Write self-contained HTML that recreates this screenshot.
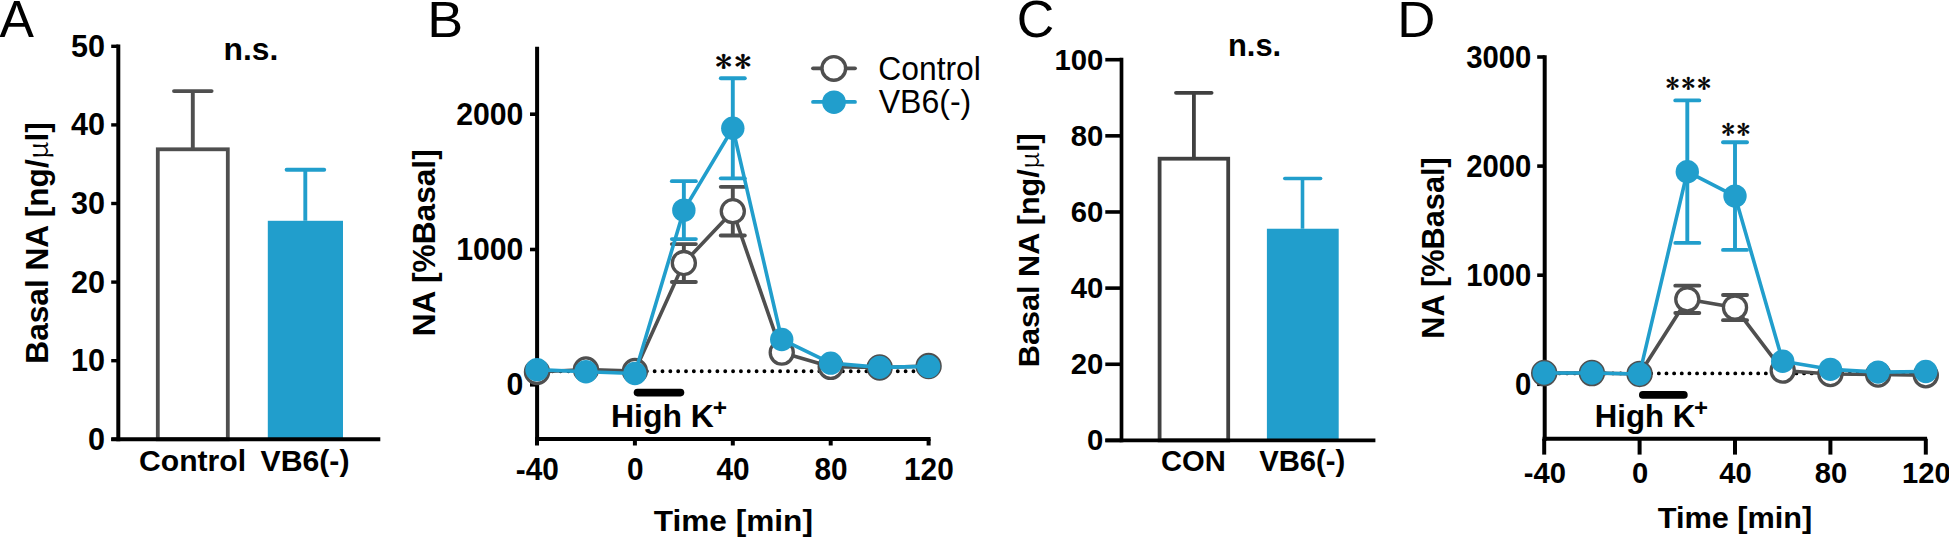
<!DOCTYPE html>
<html><head><meta charset="utf-8"><title>Figure</title>
<style>html,body{margin:0;padding:0;background:#fff;}svg{display:block;}</style></head>
<body><svg width="1949" height="539" viewBox="0 0 1949 539">
<rect width="1949" height="539" fill="#fff"/>
<text id="lA" transform="translate(-0.40,37.35) scale(1.0059,1)" font-size="51.33" font-weight="normal" text-anchor="start" font-family="'Liberation Sans', sans-serif">A</text>
<text id="lB" transform="translate(427.20,37.32) scale(1.0640,1)" font-size="50.65" font-weight="normal" text-anchor="start" font-family="'Liberation Sans', sans-serif">B</text>
<text id="lC" transform="translate(1016.82,37.16) scale(1.0096,1)" font-size="51.46" font-weight="normal" text-anchor="start" font-family="'Liberation Sans', sans-serif">C</text>
<text id="lD" transform="translate(1397.30,37.32) scale(1.0424,1)" font-size="50.65" font-weight="normal" text-anchor="start" font-family="'Liberation Sans', sans-serif">D</text>
<rect x="157.8" y="149.3" width="70" height="290.00" fill="#fff" stroke="#4f4f4f" stroke-width="3.8"/>
<line x1="192.80" y1="149.30" x2="192.80" y2="91.10" stroke="#4f4f4f" stroke-width="3.9" stroke-linecap="butt"/>
<line x1="174.00" y1="91.10" x2="211.60" y2="91.10" stroke="#4f4f4f" stroke-width="3.9" stroke-linecap="round"/>
<rect x="267.8" y="220.79" width="75.2" height="218.51" fill="#219ecc"/>
<line x1="305.30" y1="220.79" x2="305.30" y2="169.70" stroke="#219ecc" stroke-width="3.9" stroke-linecap="butt"/>
<line x1="286.60" y1="169.70" x2="324.20" y2="169.70" stroke="#219ecc" stroke-width="3.9" stroke-linecap="round"/>
<line x1="118.30" y1="44.60" x2="118.30" y2="441.30" stroke="#000" stroke-width="4" stroke-linecap="butt"/>
<line x1="111.30" y1="439.30" x2="380.30" y2="439.30" stroke="#000" stroke-width="4" stroke-linecap="butt"/>
<line x1="111.20" y1="439.30" x2="118.30" y2="439.30" stroke="#000" stroke-width="3.4" stroke-linecap="butt"/>
<text id="yA0" transform="translate(105.00,449.89) scale(0.9970,1)" font-size="30.70" font-weight="bold" text-anchor="end" font-family="'Liberation Sans', sans-serif">0</text>
<line x1="111.20" y1="360.70" x2="118.30" y2="360.70" stroke="#000" stroke-width="3.4" stroke-linecap="butt"/>
<text id="yA10" transform="translate(105.00,371.29) scale(0.9970,1)" font-size="30.70" font-weight="bold" text-anchor="end" font-family="'Liberation Sans', sans-serif">10</text>
<line x1="111.20" y1="282.10" x2="118.30" y2="282.10" stroke="#000" stroke-width="3.4" stroke-linecap="butt"/>
<text id="yA20" transform="translate(105.00,292.69) scale(0.9970,1)" font-size="30.70" font-weight="bold" text-anchor="end" font-family="'Liberation Sans', sans-serif">20</text>
<line x1="111.20" y1="203.50" x2="118.30" y2="203.50" stroke="#000" stroke-width="3.4" stroke-linecap="butt"/>
<text id="yA30" transform="translate(105.00,214.09) scale(0.9970,1)" font-size="30.70" font-weight="bold" text-anchor="end" font-family="'Liberation Sans', sans-serif">30</text>
<line x1="111.20" y1="124.90" x2="118.30" y2="124.90" stroke="#000" stroke-width="3.4" stroke-linecap="butt"/>
<text id="yA40" transform="translate(105.00,135.49) scale(0.9970,1)" font-size="30.70" font-weight="bold" text-anchor="end" font-family="'Liberation Sans', sans-serif">40</text>
<line x1="111.20" y1="46.30" x2="118.30" y2="46.30" stroke="#000" stroke-width="3.4" stroke-linecap="butt"/>
<text id="yA50" transform="translate(105.00,56.89) scale(0.9970,1)" font-size="30.70" font-weight="bold" text-anchor="end" font-family="'Liberation Sans', sans-serif">50</text>
<text id="xA1" transform="translate(192.57,471.46) scale(1.0010,1)" font-size="30.07" font-weight="bold" text-anchor="middle" font-family="'Liberation Sans', sans-serif">Control</text>
<text id="xA2" transform="translate(304.99,470.60) scale(0.9935,1)" font-size="30.40" font-weight="bold" text-anchor="middle" font-family="'Liberation Sans', sans-serif">VB6(-)</text>
<text id="nsA" transform="translate(250.88,60.04) scale(0.9914,1)" font-size="32.09" font-weight="bold" text-anchor="middle" font-family="'Liberation Sans', sans-serif">n.s.</text>
<text id="ylA" transform="translate(47.60,242.91) rotate(-90) scale(0.9910,1)" font-size="31.92" font-weight="bold" text-anchor="middle" font-family="'Liberation Sans', sans-serif">Basal NA [ng/<tspan font-family="'Noto Serif CJK SC', 'Liberation Serif', serif" font-weight="normal" font-size="90%">&#956;</tspan>l]</text>
<line x1="537.00" y1="371.27" x2="928.60" y2="371.27" stroke="#000" stroke-width="3.9" stroke-linecap="round" stroke-dasharray="0 7.8430"/>
<line x1="537.10" y1="46.80" x2="537.10" y2="440.90" stroke="#000" stroke-width="4" stroke-linecap="butt"/>
<line x1="535.00" y1="438.90" x2="930.60" y2="438.90" stroke="#000" stroke-width="4" stroke-linecap="butt"/>
<line x1="537.00" y1="438.90" x2="537.00" y2="445.50" stroke="#000" stroke-width="4" stroke-linecap="butt"/>
<text id="xB-40" transform="translate(537.30,479.90) scale(0.9550,1)" font-size="31.20" font-weight="bold" text-anchor="middle" font-family="'Liberation Sans', sans-serif">-40</text>
<line x1="634.90" y1="438.90" x2="634.90" y2="445.50" stroke="#000" stroke-width="4" stroke-linecap="butt"/>
<text id="xB0" transform="translate(635.20,479.90) scale(0.9550,1)" font-size="31.20" font-weight="bold" text-anchor="middle" font-family="'Liberation Sans', sans-serif">0</text>
<line x1="732.80" y1="438.90" x2="732.80" y2="445.50" stroke="#000" stroke-width="4" stroke-linecap="butt"/>
<text id="xB40" transform="translate(733.10,479.90) scale(0.9550,1)" font-size="31.20" font-weight="bold" text-anchor="middle" font-family="'Liberation Sans', sans-serif">40</text>
<line x1="830.70" y1="438.90" x2="830.70" y2="445.50" stroke="#000" stroke-width="4" stroke-linecap="butt"/>
<text id="xB80" transform="translate(831.00,479.90) scale(0.9550,1)" font-size="31.20" font-weight="bold" text-anchor="middle" font-family="'Liberation Sans', sans-serif">80</text>
<line x1="928.60" y1="438.90" x2="928.60" y2="445.50" stroke="#000" stroke-width="4" stroke-linecap="butt"/>
<text id="xB120" transform="translate(928.90,479.90) scale(0.9550,1)" font-size="31.20" font-weight="bold" text-anchor="middle" font-family="'Liberation Sans', sans-serif">120</text>
<line x1="530.00" y1="384.80" x2="537.10" y2="384.80" stroke="#000" stroke-width="3.6" stroke-linecap="butt"/>
<text id="yB0" transform="translate(523.40,395.39) scale(0.9850,1)" font-size="30.70" font-weight="bold" text-anchor="end" font-family="'Liberation Sans', sans-serif">0</text>
<line x1="530.00" y1="249.50" x2="537.10" y2="249.50" stroke="#000" stroke-width="3.6" stroke-linecap="butt"/>
<text id="yB1000" transform="translate(523.40,260.09) scale(0.9850,1)" font-size="30.70" font-weight="bold" text-anchor="end" font-family="'Liberation Sans', sans-serif">1000</text>
<line x1="530.00" y1="114.20" x2="537.10" y2="114.20" stroke="#000" stroke-width="3.6" stroke-linecap="butt"/>
<text id="yB2000" transform="translate(523.40,124.79) scale(0.9850,1)" font-size="30.70" font-weight="bold" text-anchor="end" font-family="'Liberation Sans', sans-serif">2000</text>
<polyline points="537.00,371.95 585.95,369.51 634.90,371.00 683.85,263.03 732.80,211.21 781.75,352.60 830.70,366.81 879.65,367.48 928.60,365.99" fill="none" stroke="#4f4f4f" stroke-width="3.6" stroke-linejoin="round"/>
<line x1="683.85" y1="281.97" x2="683.85" y2="244.09" stroke="#4f4f4f" stroke-width="3.9" stroke-linecap="butt"/>
<line x1="671.85" y1="244.09" x2="695.85" y2="244.09" stroke="#4f4f4f" stroke-width="3.9" stroke-linecap="round"/>
<line x1="671.85" y1="281.97" x2="695.85" y2="281.97" stroke="#4f4f4f" stroke-width="3.9" stroke-linecap="round"/>
<line x1="732.80" y1="235.56" x2="732.80" y2="186.86" stroke="#4f4f4f" stroke-width="3.9" stroke-linecap="butt"/>
<line x1="720.80" y1="186.86" x2="744.80" y2="186.86" stroke="#4f4f4f" stroke-width="3.9" stroke-linecap="round"/>
<line x1="720.80" y1="235.56" x2="744.80" y2="235.56" stroke="#4f4f4f" stroke-width="3.9" stroke-linecap="round"/>
<circle cx="537.00" cy="371.95" r="11.55" fill="#fff" stroke="#4f4f4f" stroke-width="3.3"/>
<circle cx="585.95" cy="369.51" r="11.55" fill="#fff" stroke="#4f4f4f" stroke-width="3.3"/>
<circle cx="634.90" cy="371.00" r="11.55" fill="#fff" stroke="#4f4f4f" stroke-width="3.3"/>
<circle cx="683.85" cy="263.03" r="11.55" fill="#fff" stroke="#4f4f4f" stroke-width="3.3"/>
<circle cx="732.80" cy="211.21" r="11.55" fill="#fff" stroke="#4f4f4f" stroke-width="3.3"/>
<circle cx="781.75" cy="352.60" r="11.55" fill="#fff" stroke="#4f4f4f" stroke-width="3.3"/>
<circle cx="830.70" cy="366.81" r="11.55" fill="#fff" stroke="#4f4f4f" stroke-width="3.3"/>
<circle cx="879.65" cy="367.48" r="11.55" fill="#fff" stroke="#4f4f4f" stroke-width="3.3"/>
<circle cx="928.60" cy="365.99" r="11.55" fill="#fff" stroke="#4f4f4f" stroke-width="3.3"/>
<polyline points="537.00,369.65 585.95,371.68 634.90,373.57 683.85,210.13 732.80,128.27 781.75,339.47 830.70,363.15 879.65,367.35 928.60,366.40" fill="none" stroke="#219ecc" stroke-width="3.6" stroke-linejoin="round"/>
<line x1="683.85" y1="239.08" x2="683.85" y2="181.17" stroke="#219ecc" stroke-width="3.9" stroke-linecap="butt"/>
<line x1="671.85" y1="181.17" x2="695.85" y2="181.17" stroke="#219ecc" stroke-width="3.9" stroke-linecap="round"/>
<line x1="671.85" y1="239.08" x2="695.85" y2="239.08" stroke="#219ecc" stroke-width="3.9" stroke-linecap="round"/>
<line x1="732.80" y1="178.33" x2="732.80" y2="78.21" stroke="#219ecc" stroke-width="3.9" stroke-linecap="butt"/>
<line x1="720.80" y1="78.21" x2="744.80" y2="78.21" stroke="#219ecc" stroke-width="3.9" stroke-linecap="round"/>
<line x1="720.80" y1="178.33" x2="744.80" y2="178.33" stroke="#219ecc" stroke-width="3.9" stroke-linecap="round"/>
<circle cx="537.00" cy="369.65" r="11.7" fill="#219ecc" stroke="none" stroke-width="0"/>
<circle cx="585.95" cy="371.68" r="11.7" fill="#219ecc" stroke="none" stroke-width="0"/>
<circle cx="634.90" cy="373.57" r="11.7" fill="#219ecc" stroke="none" stroke-width="0"/>
<circle cx="683.85" cy="210.13" r="11.7" fill="#219ecc" stroke="none" stroke-width="0"/>
<circle cx="732.80" cy="128.27" r="11.7" fill="#219ecc" stroke="none" stroke-width="0"/>
<circle cx="781.75" cy="339.47" r="11.7" fill="#219ecc" stroke="none" stroke-width="0"/>
<circle cx="830.70" cy="363.15" r="11.7" fill="#219ecc" stroke="none" stroke-width="0"/>
<circle cx="879.65" cy="367.35" r="11.7" fill="#219ecc" stroke="none" stroke-width="0"/>
<circle cx="928.60" cy="366.40" r="11.7" fill="#219ecc" stroke="none" stroke-width="0"/>
<line x1="637.50" y1="392.60" x2="680.50" y2="392.60" stroke="#000" stroke-width="7.6" stroke-linecap="round"/>
<text id="hkB" transform="translate(610.95,426.90) scale(0.9986,1)" font-size="32.00" font-weight="bold" text-anchor="start" font-family="'Liberation Sans', sans-serif">High K</text>
<text id="pkB" transform="translate(712.70,415.68) scale(1.0454,1)" font-size="23.49" font-weight="bold" text-anchor="start" font-family="'Liberation Sans', sans-serif">+</text>
<text id="tiB" transform="translate(733.36,531.13) scale(1.0449,1)" font-size="30.25" font-weight="bold" text-anchor="middle" font-family="'Liberation Sans', sans-serif">Time [min]</text>
<text id="ylB" transform="translate(435.01,242.80) rotate(-90) scale(1.0097,1)" font-size="31.36" font-weight="bold" text-anchor="middle" font-family="'Liberation Sans', sans-serif">NA [%Basal]</text>
<text id="stB" transform="translate(734.48,72.38) scale(1.1794,1)" font-size="28.48" font-weight="normal" text-anchor="middle" font-family="'IPAGothic', 'Liberation Serif', serif" letter-spacing="2" stroke="#000" stroke-width="0.45">**</text>
<line x1="813.00" y1="68.30" x2="855.00" y2="68.30" stroke="#4f4f4f" stroke-width="3.8" stroke-linecap="round"/>
<circle cx="833.80" cy="68.40" r="11.8" fill="#fff" stroke="#4f4f4f" stroke-width="3.4"/>
<line x1="813.00" y1="101.90" x2="855.00" y2="101.90" stroke="#219ecc" stroke-width="3.8" stroke-linecap="round"/>
<circle cx="834.00" cy="102.20" r="11.8" fill="#219ecc" stroke="none" stroke-width="0"/>
<text id="lg1" transform="translate(878.28,79.80) scale(0.9536,1)" font-size="33.39" font-weight="normal" text-anchor="start" font-family="'Liberation Sans', sans-serif">Control</text>
<text id="lg2" transform="translate(878.69,113.01) scale(0.9598,1)" font-size="33.40" font-weight="normal" text-anchor="start" font-family="'Liberation Sans', sans-serif">VB6(-)</text>
<rect x="1159.6" y="158.7" width="68.6" height="281.70" fill="#fff" stroke="#404040" stroke-width="3.8"/>
<line x1="1193.90" y1="158.70" x2="1193.90" y2="92.82" stroke="#404040" stroke-width="3.8" stroke-linecap="butt"/>
<line x1="1176.00" y1="92.82" x2="1211.60" y2="92.82" stroke="#404040" stroke-width="3.8" stroke-linecap="round"/>
<rect x="1266.9" y="228.73" width="71.8" height="211.67" fill="#219ecc"/>
<line x1="1302.50" y1="228.73" x2="1302.50" y2="178.48" stroke="#219ecc" stroke-width="3.6" stroke-linecap="butt"/>
<line x1="1284.80" y1="178.48" x2="1320.60" y2="178.48" stroke="#219ecc" stroke-width="3.6" stroke-linecap="round"/>
<line x1="1121.50" y1="57.80" x2="1121.50" y2="442.20" stroke="#000" stroke-width="3.7" stroke-linecap="butt"/>
<line x1="1105.40" y1="440.40" x2="1375.40" y2="440.40" stroke="#000" stroke-width="3.7" stroke-linecap="butt"/>
<line x1="1105.30" y1="440.40" x2="1121.50" y2="440.40" stroke="#000" stroke-width="3.6" stroke-linecap="butt"/>
<text id="yC0" transform="translate(1103.40,450.47) scale(1.0030,1)" font-size="29.20" font-weight="bold" text-anchor="end" font-family="'Liberation Sans', sans-serif">0</text>
<line x1="1105.30" y1="364.26" x2="1121.50" y2="364.26" stroke="#000" stroke-width="3.6" stroke-linecap="butt"/>
<text id="yC20" transform="translate(1103.40,374.33) scale(1.0030,1)" font-size="29.20" font-weight="bold" text-anchor="end" font-family="'Liberation Sans', sans-serif">20</text>
<line x1="1105.30" y1="288.12" x2="1121.50" y2="288.12" stroke="#000" stroke-width="3.6" stroke-linecap="butt"/>
<text id="yC40" transform="translate(1103.40,298.19) scale(1.0030,1)" font-size="29.20" font-weight="bold" text-anchor="end" font-family="'Liberation Sans', sans-serif">40</text>
<line x1="1105.30" y1="211.98" x2="1121.50" y2="211.98" stroke="#000" stroke-width="3.6" stroke-linecap="butt"/>
<text id="yC60" transform="translate(1103.40,222.05) scale(1.0030,1)" font-size="29.20" font-weight="bold" text-anchor="end" font-family="'Liberation Sans', sans-serif">60</text>
<line x1="1105.30" y1="135.84" x2="1121.50" y2="135.84" stroke="#000" stroke-width="3.6" stroke-linecap="butt"/>
<text id="yC80" transform="translate(1103.40,145.91) scale(1.0030,1)" font-size="29.20" font-weight="bold" text-anchor="end" font-family="'Liberation Sans', sans-serif">80</text>
<line x1="1105.30" y1="59.70" x2="1121.50" y2="59.70" stroke="#000" stroke-width="3.6" stroke-linecap="butt"/>
<text id="yC100" transform="translate(1103.40,69.77) scale(1.0030,1)" font-size="29.20" font-weight="bold" text-anchor="end" font-family="'Liberation Sans', sans-serif">100</text>
<text id="xC1" transform="translate(1193.35,470.73) scale(0.9590,1)" font-size="30.40" font-weight="bold" text-anchor="middle" font-family="'Liberation Sans', sans-serif">CON</text>
<text id="xC2" transform="translate(1302.25,470.80) scale(0.9693,1)" font-size="30.20" font-weight="bold" text-anchor="middle" font-family="'Liberation Sans', sans-serif">VB6(-)</text>
<text id="nsC" transform="translate(1254.58,55.84) scale(0.9598,1)" font-size="32.20" font-weight="bold" text-anchor="middle" font-family="'Liberation Sans', sans-serif">n.s.</text>
<text id="ylC" transform="translate(1038.88,250.19) rotate(-90) scale(1.0251,1)" font-size="29.88" font-weight="bold" text-anchor="middle" font-family="'Liberation Sans', sans-serif">Basal NA [ng/<tspan font-family="'Noto Serif CJK SC', 'Liberation Serif', serif" font-weight="normal" font-size="90%">&#956;</tspan>l]</text>
<line x1="1544.20" y1="373.39" x2="1925.80" y2="373.39" stroke="#000" stroke-width="3.9" stroke-linecap="round" stroke-dasharray="0 7.6427"/>
<line x1="1544.70" y1="55.20" x2="1544.70" y2="440.70" stroke="#000" stroke-width="4" stroke-linecap="butt"/>
<line x1="1542.60" y1="438.70" x2="1927.10" y2="438.70" stroke="#000" stroke-width="4" stroke-linecap="butt"/>
<line x1="1544.20" y1="438.70" x2="1544.20" y2="454.60" stroke="#000" stroke-width="4" stroke-linecap="butt"/>
<text id="xD-40" transform="translate(1544.80,483.10) scale(0.9730,1)" font-size="30.00" font-weight="bold" text-anchor="middle" font-family="'Liberation Sans', sans-serif">-40</text>
<line x1="1639.60" y1="438.70" x2="1639.60" y2="454.60" stroke="#000" stroke-width="4" stroke-linecap="butt"/>
<text id="xD0" transform="translate(1640.20,483.10) scale(0.9730,1)" font-size="30.00" font-weight="bold" text-anchor="middle" font-family="'Liberation Sans', sans-serif">0</text>
<line x1="1735.00" y1="438.70" x2="1735.00" y2="454.60" stroke="#000" stroke-width="4" stroke-linecap="butt"/>
<text id="xD40" transform="translate(1735.60,483.10) scale(0.9730,1)" font-size="30.00" font-weight="bold" text-anchor="middle" font-family="'Liberation Sans', sans-serif">40</text>
<line x1="1830.40" y1="438.70" x2="1830.40" y2="454.60" stroke="#000" stroke-width="4" stroke-linecap="butt"/>
<text id="xD80" transform="translate(1831.00,483.10) scale(0.9730,1)" font-size="30.00" font-weight="bold" text-anchor="middle" font-family="'Liberation Sans', sans-serif">80</text>
<line x1="1925.80" y1="438.70" x2="1925.80" y2="454.60" stroke="#000" stroke-width="4" stroke-linecap="butt"/>
<text id="xD120" transform="translate(1926.40,483.10) scale(0.9730,1)" font-size="30.00" font-weight="bold" text-anchor="middle" font-family="'Liberation Sans', sans-serif">120</text>
<line x1="1537.20" y1="384.30" x2="1544.70" y2="384.30" stroke="#000" stroke-width="3.6" stroke-linecap="butt"/>
<text id="yD0" transform="translate(1531.30,394.86) scale(0.9570,1)" font-size="30.60" font-weight="bold" text-anchor="end" font-family="'Liberation Sans', sans-serif">0</text>
<line x1="1537.20" y1="275.20" x2="1544.70" y2="275.20" stroke="#000" stroke-width="3.6" stroke-linecap="butt"/>
<text id="yD1000" transform="translate(1531.30,285.76) scale(0.9570,1)" font-size="30.60" font-weight="bold" text-anchor="end" font-family="'Liberation Sans', sans-serif">1000</text>
<line x1="1537.20" y1="166.10" x2="1544.70" y2="166.10" stroke="#000" stroke-width="3.6" stroke-linecap="butt"/>
<text id="yD2000" transform="translate(1531.30,176.66) scale(0.9570,1)" font-size="30.60" font-weight="bold" text-anchor="end" font-family="'Liberation Sans', sans-serif">2000</text>
<line x1="1537.20" y1="57.00" x2="1544.70" y2="57.00" stroke="#000" stroke-width="3.6" stroke-linecap="butt"/>
<text id="yD3000" transform="translate(1531.30,67.56) scale(0.9570,1)" font-size="30.60" font-weight="bold" text-anchor="end" font-family="'Liberation Sans', sans-serif">3000</text>
<polyline points="1544.20,373.06 1591.90,373.06 1639.60,373.94 1687.30,299.31 1735.00,307.60 1782.70,370.55 1830.40,374.04 1878.10,374.48 1925.80,375.24" fill="none" stroke="#4f4f4f" stroke-width="3.6" stroke-linejoin="round"/>
<line x1="1687.30" y1="312.95" x2="1687.30" y2="285.67" stroke="#4f4f4f" stroke-width="3.9" stroke-linecap="butt"/>
<line x1="1675.30" y1="285.67" x2="1699.30" y2="285.67" stroke="#4f4f4f" stroke-width="3.9" stroke-linecap="round"/>
<line x1="1675.30" y1="312.95" x2="1699.30" y2="312.95" stroke="#4f4f4f" stroke-width="3.9" stroke-linecap="round"/>
<line x1="1735.00" y1="320.15" x2="1735.00" y2="295.06" stroke="#4f4f4f" stroke-width="3.9" stroke-linecap="butt"/>
<line x1="1723.00" y1="295.06" x2="1747.00" y2="295.06" stroke="#4f4f4f" stroke-width="3.9" stroke-linecap="round"/>
<line x1="1723.00" y1="320.15" x2="1747.00" y2="320.15" stroke="#4f4f4f" stroke-width="3.9" stroke-linecap="round"/>
<circle cx="1544.20" cy="373.06" r="11.55" fill="#fff" stroke="#4f4f4f" stroke-width="3.3"/>
<circle cx="1591.90" cy="373.06" r="11.55" fill="#fff" stroke="#4f4f4f" stroke-width="3.3"/>
<circle cx="1639.60" cy="373.94" r="11.55" fill="#fff" stroke="#4f4f4f" stroke-width="3.3"/>
<circle cx="1687.30" cy="299.31" r="11.55" fill="#fff" stroke="#4f4f4f" stroke-width="3.3"/>
<circle cx="1735.00" cy="307.60" r="11.55" fill="#fff" stroke="#4f4f4f" stroke-width="3.3"/>
<circle cx="1782.70" cy="370.55" r="11.55" fill="#fff" stroke="#4f4f4f" stroke-width="3.3"/>
<circle cx="1830.40" cy="374.04" r="11.55" fill="#fff" stroke="#4f4f4f" stroke-width="3.3"/>
<circle cx="1878.10" cy="374.48" r="11.55" fill="#fff" stroke="#4f4f4f" stroke-width="3.3"/>
<circle cx="1925.80" cy="375.24" r="11.55" fill="#fff" stroke="#4f4f4f" stroke-width="3.3"/>
<polyline points="1544.20,373.06 1591.90,373.06 1639.60,373.94 1687.30,171.66 1735.00,196.10 1782.70,361.28 1830.40,369.35 1878.10,372.08 1925.80,371.43" fill="none" stroke="#219ecc" stroke-width="3.6" stroke-linejoin="round"/>
<line x1="1687.30" y1="242.91" x2="1687.30" y2="100.42" stroke="#219ecc" stroke-width="3.9" stroke-linecap="butt"/>
<line x1="1675.30" y1="100.42" x2="1699.30" y2="100.42" stroke="#219ecc" stroke-width="3.9" stroke-linecap="round"/>
<line x1="1675.30" y1="242.91" x2="1699.30" y2="242.91" stroke="#219ecc" stroke-width="3.9" stroke-linecap="round"/>
<line x1="1735.00" y1="249.89" x2="1735.00" y2="142.32" stroke="#219ecc" stroke-width="3.9" stroke-linecap="butt"/>
<line x1="1723.00" y1="142.32" x2="1747.00" y2="142.32" stroke="#219ecc" stroke-width="3.9" stroke-linecap="round"/>
<line x1="1723.00" y1="249.89" x2="1747.00" y2="249.89" stroke="#219ecc" stroke-width="3.9" stroke-linecap="round"/>
<circle cx="1544.20" cy="373.06" r="11.7" fill="#219ecc" stroke="none" stroke-width="0"/>
<circle cx="1591.90" cy="373.06" r="11.7" fill="#219ecc" stroke="none" stroke-width="0"/>
<circle cx="1639.60" cy="373.94" r="11.7" fill="#219ecc" stroke="none" stroke-width="0"/>
<circle cx="1687.30" cy="171.66" r="11.7" fill="#219ecc" stroke="none" stroke-width="0"/>
<circle cx="1735.00" cy="196.10" r="11.7" fill="#219ecc" stroke="none" stroke-width="0"/>
<circle cx="1782.70" cy="361.28" r="11.7" fill="#219ecc" stroke="none" stroke-width="0"/>
<circle cx="1830.40" cy="369.35" r="11.7" fill="#219ecc" stroke="none" stroke-width="0"/>
<circle cx="1878.10" cy="372.08" r="11.7" fill="#219ecc" stroke="none" stroke-width="0"/>
<circle cx="1925.80" cy="371.43" r="11.7" fill="#219ecc" stroke="none" stroke-width="0"/>
<line x1="1642.80" y1="394.90" x2="1683.90" y2="394.90" stroke="#000" stroke-width="7.6" stroke-linecap="round"/>
<text id="hkD" transform="translate(1594.87,427.00) scale(1.0057,1)" font-size="30.96" font-weight="bold" text-anchor="start" font-family="'Liberation Sans', sans-serif">High K</text>
<text id="pkD" transform="translate(1693.93,415.64) scale(1.0198,1)" font-size="23.49" font-weight="bold" text-anchor="start" font-family="'Liberation Sans', sans-serif">+</text>
<text id="tiD" transform="translate(1735.08,528.15) scale(1.0089,1)" font-size="30.41" font-weight="bold" text-anchor="middle" font-family="'Liberation Sans', sans-serif">Time [min]</text>
<text id="ylD" transform="translate(1443.86,247.99) rotate(-90) scale(0.9905,1)" font-size="31.03" font-weight="bold" text-anchor="middle" font-family="'Liberation Sans', sans-serif">NA [%Basal]</text>
<text id="st3D" transform="translate(1689.25,92.85) scale(1.0522,1)" font-size="25.93" font-weight="normal" text-anchor="middle" font-family="'IPAGothic', 'Liberation Serif', serif" letter-spacing="2" stroke="#000" stroke-width="0.4">***</text>
<text id="st2D" transform="translate(1736.87,139.32) scale(1.0638,1)" font-size="25.06" font-weight="normal" text-anchor="middle" font-family="'IPAGothic', 'Liberation Serif', serif" letter-spacing="2" stroke="#000" stroke-width="0.4">**</text>
</svg></body></html>
